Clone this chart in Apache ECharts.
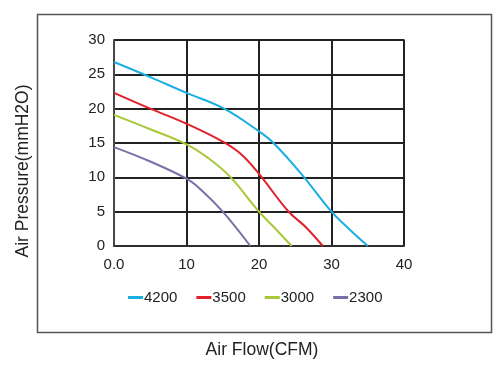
<!DOCTYPE html>
<html>
<head>
<meta charset="utf-8">
<script src="https://cdn.jsdelivr.net/npm/echarts@6/dist/echarts.min.js"></script>
<style>html,body{margin:0;padding:0;background:#fff}#c{width:498px;height:366px}</style>
</head>
<body>
<div id="c"></div>
<script>
const seriesNames = ['4200', '3500', '3000', '2300'];
const seriesColors = ['#1aaee3', '#e2202a', '#a6c839', '#7a6fa6'];
const flow4200 = [0, 5, 10, 15, 20, 22, 26, 30, 32.5, 35];
const pres4200 = [26.8, 24.6, 22.3, 20.1, 16.7, 15.0, 10.3, 5.0, 2.4, 0];
const flow3500 = [0, 5, 10, 15, 17.5, 20, 24, 26.5, 28.8];
const pres3500 = [22.3, 20.0, 17.8, 15.2, 13.4, 10.5, 5.1, 2.7, 0];
const flow3000 = [0, 5, 10, 13, 16, 20, 22, 24.5];
const pres3000 = [19.1, 17.0, 14.8, 12.8, 10.1, 5.0, 2.8, 0];
const flow2300 = [0, 5, 10, 12, 15, 18.8];
const pres2300 = [14.4, 12.3, 9.8, 8.2, 5.0, 0];
const xTickLabels = ['0.0', '10', '20', '30', '40'];
const yTickLabels = ['0', '5', '10', '15', '20', '25', '30'];
const xTitle = 'Air Flow(CFM)';
const yTitle = 'Air Pressure(mmH2O)';

const flows = [flow4200, flow3500, flow3000, flow2300];
const pressures = [pres4200, pres3500, pres3000, pres2300];

const chart = echarts.init(document.getElementById('c'), null, {renderer: 'canvas'});
const font = 'Arial, "Liberation Sans", sans-serif';
chart.setOption({
  animation: false,
  backgroundColor: '#fff',
  graphic: [{
    type: 'rect', left: 35, top: 12, silent: true,
    shape: {width: 454, height: 318},
    style: {fill: 'none', stroke: '#555', lineWidth: 1.5}
  }, {
    type: 'text', x: 23, y: 171, rotation: Math.PI / 2, silent: true,
    style: {text: yTitle, fontFamily: font, fontSize: 17.5, fill: '#222', align: 'center', verticalAlign: 'middle'}
  }, {
    type: 'text', x: 262, y: 350, silent: true,
    style: {text: xTitle, fontFamily: font, fontSize: 17.5, fill: '#222', align: 'center', verticalAlign: 'middle'}
  }],
  grid: {left: 114, right: 94, top: 40, bottom: 120, show: true, borderColor: '#333', borderWidth: 1.5},
  legend: {
    data: seriesNames, left: 123, top: 285, itemWidth: 15, itemHeight: 3, itemGap: 19,
    icon: 'rect', textStyle: {fontFamily: font, fontSize: 15, color: '#222', padding: [0, 0, 0, -4]}
  },
  xAxis: {
    type: 'value', min: 0, max: 40, interval: 10,
    axisLine: {show: true, lineStyle: {color: '#333', width: 1.5}},
    axisTick: {show: false},
    axisLabel: {margin: 11, fontFamily: font, fontSize: 15, color: '#222',
      formatter: (v) => xTickLabels[Math.round(v / 10)], align: 'center'},
    splitLine: {show: true, lineStyle: {color: '#222', width: 2}}
  },
  yAxis: {
    type: 'value', min: 0, max: 30, interval: 5,
    axisLine: {show: true, lineStyle: {color: '#555', width: 1.5}},
    axisTick: {show: false},
    axisLabel: {margin: 9, fontFamily: font, fontSize: 15, color: '#222',
      formatter: (v) => yTickLabels[Math.round(v / 5)]},
    splitLine: {show: true, lineStyle: {color: '#222', width: 2}}
  },
  series: seriesNames.map((n, i) => ({
    name: n, type: 'line', smooth: 0.4, showSymbol: false, symbol: 'none',
    color: seriesColors[i],
    lineStyle: {width: 2, color: seriesColors[i]},
    data: flows[i].map((x, j) => [x, pressures[i][j]])
  }))
});
</script>
</body>
</html>
